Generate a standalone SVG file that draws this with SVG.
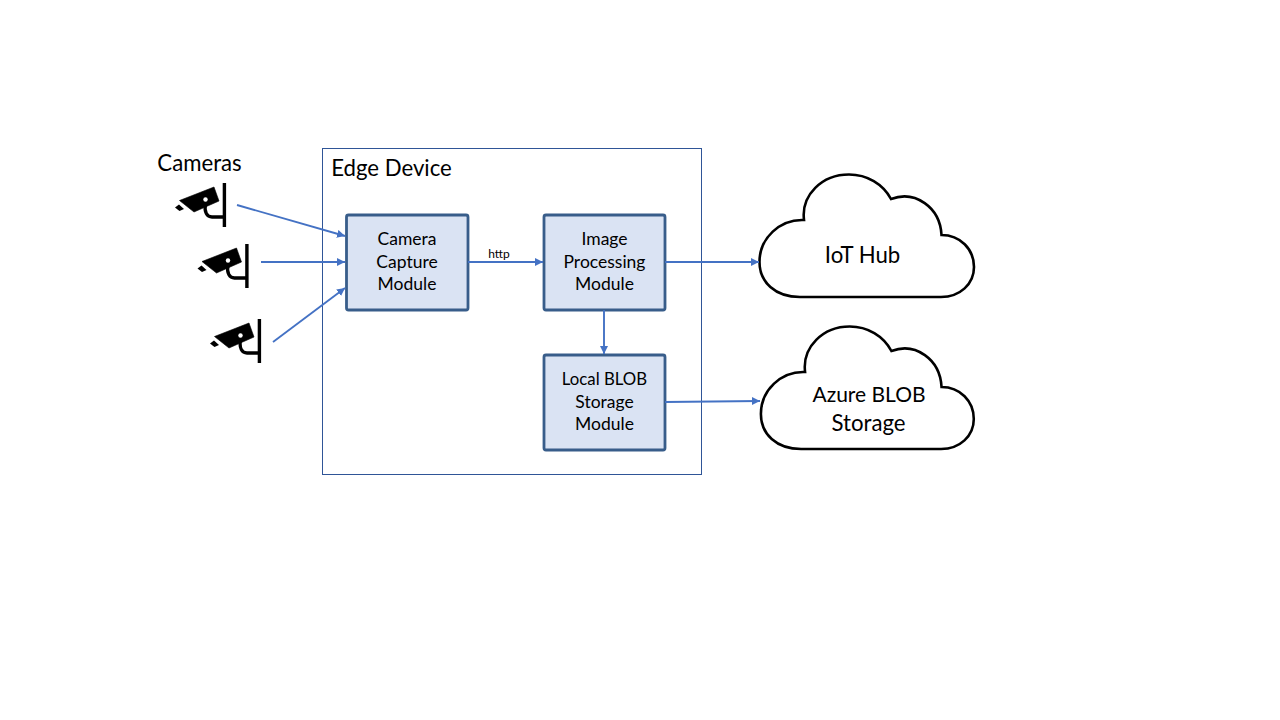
<svg xmlns="http://www.w3.org/2000/svg" xmlns:xlink="http://www.w3.org/1999/xlink" width="1280" height="720" viewBox="0 0 1280 720">
<style>
text{font-family:"Lato","Open Sans","Liberation Sans",sans-serif;fill:#000;text-anchor:middle}
.m{font-size:17.5px}
.l{font-size:22.2px}
.box{fill:#dae3f3;stroke:#385d8a;stroke-width:2.8}
.cloud{fill:#fff;stroke:#000;stroke-width:2.6;stroke-linejoin:miter}
.c{fill:none;stroke:#4472c4;stroke-width:1.9;marker-end:url(#a)}
</style>
<defs>
<marker id="a" markerUnits="userSpaceOnUse" markerWidth="10" markerHeight="10" refX="8" refY="4.500" orient="auto"><path d="M0 0.500L8 4.500L0 8.500Z" fill="#4472c4"/></marker>
<path id="cl" d="M800 297C775 297 759.500 282 759.500 262C759.500 238 780 219 804 220C801 195 822 174.500 849 174.500C867 174.500 883 184 891 199C915 190 940 207 941.500 235C960 235 974 249 974 267C974 284 960 297 941 297Z"/>
<g id="cam">
<path d="M179.500 200.500L214 187L219 201L194 212Z" fill="#000" stroke="#000" stroke-width=".6"/>
<path d="M175 207.500L179 204.500L184 209L179.500 211Z" fill="#000"/>
<circle cx="205.500" cy="199.500" r="2.200" fill="#fff"/>
<path d="M205.500 204C204 212 207 217 212 217L224 217" fill="none" stroke="#000" stroke-width="3.300"/>
<rect x="222.700" y="183" width="3.400" height="44" fill="#000"/>
</g>
</defs>
<rect width="1280" height="720" fill="#fff"/>
<g id="edge-device">
<rect x="322.500" y="148.500" width="379" height="326" fill="#fff" stroke="#2f5597" stroke-width="1"/>
<text x="391.500" y="175.500" class="l">Edge Device</text>
</g>
<g id="cameras">
<text x="199.500" y="171" class="l">Cameras</text>
<use xlink:href="#cam" href="#cam"/>
<use xlink:href="#cam" href="#cam" x="22.500" y="61"/>
<use xlink:href="#cam" href="#cam" x="35" y="136"/>
</g>
<g id="camera-capture">
<rect class="box" x="346.500" y="215" width="121.500" height="95" rx="2"/>
<text x="407" y="244.500" class="m">Camera</text>
<text x="407" y="267.500" class="m">Capture</text>
<text x="407" y="289.500" class="m">Module</text>
</g>
<g id="image-processing">
<rect class="box" x="544" y="215" width="121" height="95" rx="2"/>
<text x="604.500" y="244.500" class="m">Image</text>
<text x="604.500" y="267.500" class="m">Processing</text>
<text x="604.500" y="289.500" class="m">Module</text>
</g>
<g id="local-blob">
<rect class="box" x="544" y="355" width="121" height="95" rx="2"/>
<text x="604.500" y="385" class="m" style="font-size:16.800px">Local BLOB</text>
<text x="604.500" y="407.500" class="m">Storage</text>
<text x="604.500" y="430" class="m">Module</text>
</g>
<g id="iot-hub">
<use xlink:href="#cl" href="#cl" class="cloud"/>
<text x="862.500" y="262.500" class="l">IoT Hub</text>
</g>
<g id="azure-blob">
<use xlink:href="#cl" href="#cl" class="cloud" transform="translate(7.100 152) scale(.9925 1)"/>
<text x="869" y="401.500" class="l" style="font-size:21px">Azure BLOB</text>
<text x="868.500" y="430.500" class="l">Storage</text>
</g>
<g id="connectors">
<line class="c" x1="237" y1="205" x2="345" y2="236"/>
<line class="c" x1="261" y1="262" x2="345" y2="262"/>
<line class="c" x1="273" y1="342" x2="345" y2="288"/>
<line class="c" x1="468" y1="262" x2="543" y2="262"/>
<line class="c" x1="604" y1="310" x2="604" y2="354"/>
<line class="c" x1="665" y1="262" x2="759" y2="262"/>
<line class="c" x1="665" y1="402" x2="760" y2="401"/>
</g>
<text x="499" y="258" style="font-size:12px">http</text>
</svg>
